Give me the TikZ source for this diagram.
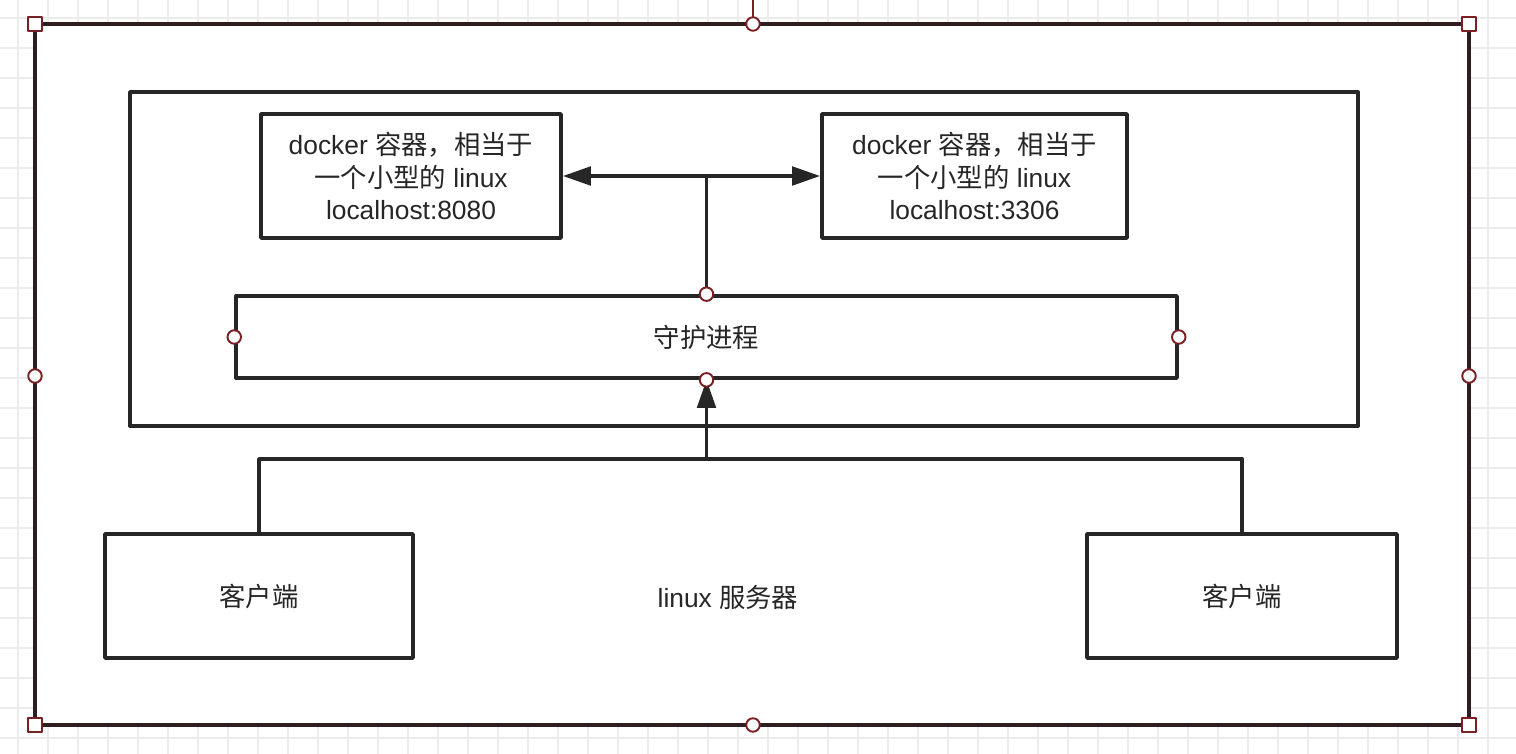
\documentclass[tikz,border=0pt]{standalone}
\usepackage{fontspec}
\setmainfont{Liberation Sans}
\newfontfamily\cjk{Noto Sans CJK SC}
\usetikzlibrary{arrows.meta}

\definecolor{ink}{HTML}{262626}
\definecolor{frameink}{HTML}{2E1E1F}
\definecolor{handle}{HTML}{7C1F24}
\definecolor{gridline}{HTML}{ECECEC}

\tikzset{
  box/.style={draw=ink, line width=2.1pt, fill=white, inner sep=0pt, text=ink,
    align=center, font=\fontsize{15}{18.5}\selectfont},
  label/.style={font=\fontsize{15}{18.5}\selectfont, inner sep=0pt, text=ink},
  arr/.style={draw=ink, line width=2.2pt, -{Triangle[length=16pt,width=10.5pt]}},
  wire/.style={draw=ink, line width=2.2pt},
  knob/.style={circle, draw=handle, fill=white, line width=1.1pt,
    minimum size=0.27cm, inner sep=0pt},
  corner/.style={rectangle, draw=handle, fill=white, line width=1.3pt,
    minimum size=0.28cm, inner sep=0pt},
}

\begin{document}
\begin{tikzpicture}[x=0.02cm, y=-0.02cm, line join=round]
    \useasboundingbox (0,0) rectangle (1516,754);

    % background grid
    \foreach \i in {18,48,...,1516} {
      \draw[gridline, line width=0.8pt] (\i,0) -- (\i,754);
    }
    \foreach \j in {18,48,...,754} {
      \draw[gridline, line width=0.8pt] (0,\j) -- (1516,\j);
    }

    % linux server frame (selected)
    \draw[frameink, fill=white, line width=2.1pt] (35,24) rectangle (1469,725);
    \draw[handle, line width=0.8pt] (753,0) -- (753,24);

    % docker host area
    \draw[wire] (130,92) rectangle (1358,426);

    % containers
    \node[box, minimum width=6cm, minimum height=2.48cm] (c1) at (411,176)
      {docker {\cjk 容器，相当于}\\{\cjk 一个小型的} linux\\localhost:8080};
    \node[box, minimum width=6.1cm, minimum height=2.48cm] (c2) at (974.5,176)
      {docker {\cjk 容器，相当于}\\{\cjk 一个小型的} linux\\localhost:3306};

    % daemon
    \node[box, minimum width=18.82cm, minimum height=1.64cm] (daemon) at (706.5,337) {\cjk 守护进程};

    % clients
    \node[box, minimum width=6.16cm, minimum height=2.48cm] (cl1) at (259,596) {\cjk 客户端};
    \node[box, minimum width=6.2cm, minimum height=2.48cm] (cl2) at (1242,596) {\cjk 客户端};

    \node[label] (server) at (728,597) {linux {\cjk 服务器}};

    % daemon -> containers
    \coordinate (split) at (daemon.north |- c1.east);
    \draw[wire] (daemon.north) -- (split);
    \draw[arr] (split) -- (c1.east);
    \draw[arr] (split) -- (c2.west);

    % clients -> daemon
    \coordinate (bus) at (daemon.south |- 0,459);
    \draw[wire] (cl1.north) |- (bus) -| (cl2.north);
    \draw[arr] (bus) -- (daemon.south);

    % handles
    \foreach \a in {north,south,west,east} {
      \node[knob] (d\a) at (daemon.\a) {};
    }
    \node[knob] (ft) at (753,24) {};
    \node[knob] (fb) at (753,725) {};
    \node[knob] (fl) at (35,376) {};
    \node[knob] (fr) at (1469,376) {};
    \node[corner] (k1) at (35,24) {};
    \node[corner] (k2) at (1469,24) {};
    \node[corner] (k3) at (35,725) {};
    \node[corner] (k4) at (1469,725) {};
\end{tikzpicture}
\end{document}
